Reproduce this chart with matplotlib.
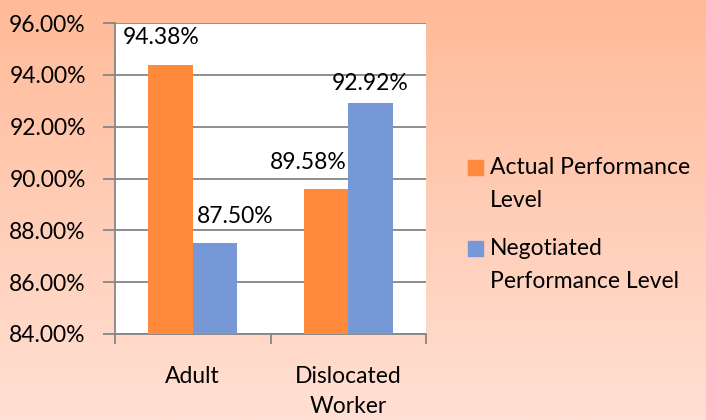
import numpy as np
import matplotlib.pyplot as plt
from matplotlib.patches import Rectangle
from matplotlib.ticker import FuncFormatter

plt.rcParams['font.family'] = ['Lato', 'DejaVu Sans']
FS = 16.5

# chart data
categories = ['Adult', 'Dislocated\nWorker']
series_names = ['Actual Performance\nLevel', 'Negotiated\nPerformance Level']
actual = [94.38, 89.58]
negotiated = [87.50, 92.92]
colors = ['#FF8A3B', '#7698D6']

fig = plt.figure(figsize=(7.06, 4.2), dpi=100)

# peach gradient background
bg = fig.add_axes([0, 0, 1, 1], zorder=-10)
grad = np.linspace(0, 1, 256).reshape(-1, 1)
top = np.array([255, 186, 152]) / 255
bot = np.array([255, 224, 212]) / 255
img = top + (bot - top) * grad[:, :, None]
bg.imshow(img, aspect='auto', extent=[0, 1, 0, 1])
bg.axis('off')

ax = fig.add_axes([115 / 706, 86 / 420, 311 / 706, 311 / 420])
ax.set_facecolor('white')

x = np.arange(len(categories))
w = 0.287
bars1 = ax.bar(x - w / 2, [v - 84 for v in actual], w, bottom=84, color=colors[0], zorder=3)
bars2 = ax.bar(x + w / 2, [v - 84 for v in negotiated], w, bottom=84, color=colors[1], zorder=3)

ax.set_ylim(84, 96)
ax.set_xlim(-0.5, 1.5)
ax.set_yticks(np.arange(84, 96.1, 2))
ax.yaxis.set_major_formatter(FuncFormatter(lambda v, p: f'{v:.2f}%'))
ax.grid(axis='y', color='#868686', linewidth=1.3, zorder=0)

# x ticks at category boundaries, labels centred
ax.set_xticks([-0.5, 0.5, 1.5])
ax.set_xticklabels([])
ax.set_xticks(x, minor=True)
ax.set_xticklabels(categories, minor=True, fontsize=FS, linespacing=1.55)
ax.tick_params(axis='x', which='minor', length=0, pad=23)
ax.tick_params(axis='x', which='major', length=7, color='#868686', width=1.3)
ax.tick_params(axis='y', length=9, color='#868686', width=1.3, labelsize=FS, pad=12)

for side in ['top', 'right']:
    ax.spines[side].set_visible(False)
for side in ['left', 'bottom']:
    ax.spines[side].set_color('#868686')
    ax.spines[side].set_linewidth(1.3)

# value labels (nudged like the original)
nudges = [(-9, 27), (20, 27), (-18, 27), (0, 19)]
allbars = [bars1[0], bars2[0], bars1[1], bars2[1]]
allvals = [actual[0], negotiated[0], actual[1], negotiated[1]]
for b, v, (dx, dy) in zip(allbars, allvals, nudges):
    ax.annotate(f'{v:.2f}%', (b.get_x() + b.get_width() / 2, v),
                xytext=(dx, dy), textcoords='offset pixels',
                ha='center', va='center', fontsize=FS, zorder=5)

# legend drawn by hand so the swatch sits beside the first line
for i, (name, c) in enumerate(zip(series_names, colors)):
    y0 = 1 - (167 + 81 * i) / 420
    fig.patches.append(Rectangle((468 / 706, y0 - 8 / 420), 15 / 706, 15 / 420,
                                 transform=fig.transFigure, color=c))
    fig.text(490 / 706, y0 + 10 / 420, name, fontsize=FS, va='top',
             linespacing=1.72)

fig.savefig('out.png', dpi=100)
